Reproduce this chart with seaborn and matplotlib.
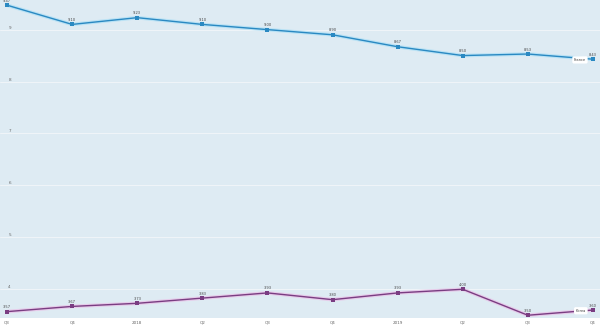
import matplotlib
matplotlib.use("Agg")
import matplotlib.pyplot as plt
import seaborn as sns
import pandas as pd

quarters = ["Q3", "Q4", "2018", "Q2", "Q3", "Q4", "2019", "Q2", "Q3", "Q4"]
france = [9.47, 9.10, 9.23, 9.10, 9.00, 8.90, 8.67, 8.50, 8.53, 8.43]
korea = [3.57, 3.67, 3.73, 3.83, 3.93, 3.80, 3.93, 4.00, 3.50, 3.60]
series_names = ["France", "Korea"]
colors = {"France": "#2a89c2", "Korea": "#7a3d82"}
halo = {"France": "#b9e2f5", "Korea": "#e6cbea"}

rows = []
for name, vals in zip(series_names, [france, korea]):
    for i, v in enumerate(vals):
        rows.append({"idx": i, "value": v, "country": name})
df = pd.DataFrame(rows)

sns.set_theme(style="white")
plt.rcParams['font.family'] = ['DejaVu Sans']

fig = plt.figure(figsize=(6, 3.27), dpi=100)
fig.patch.set_facecolor("white")
ax = fig.add_axes([0, 0.028, 1, 0.972])
ax.set_facecolor("#deebf3")

# halo
sns.lineplot(data=df, x="idx", y="value", hue="country", palette=halo,
             linewidth=2.6, legend=False, ax=ax, zorder=2)
# main line
sns.lineplot(data=df, x="idx", y="value", hue="country", palette=colors,
             marker="s", markersize=2.4, markeredgewidth=0, linewidth=1.0,
             legend=False, ax=ax, zorder=3)
for line in ax.lines:
    line.set_clip_on(False)

for name, vals in zip(series_names, [france, korea]):
    for i, v in enumerate(vals):
        ax.annotate(f"{v:.2f}", (i, v), xytext=(0, 1.8), textcoords="offset points",
                    ha="center", va="bottom", fontsize=2.6, color="#444444", zorder=5)
    ax.annotate(name, (len(vals) - 1, vals[-1]), xytext=(-5, -0.5), textcoords="offset points",
                ha="right", va="center", fontsize=2.6, color="#444444", zorder=6,
                bbox=dict(boxstyle="round,pad=0.45", fc="white", ec="none"))

ax.set_xlim(-0.108, 9.108)
ax.set_ylim(3.45, 9.57)
ax.set_xticks(range(len(quarters)))
ax.set_xticklabels(quarters)
ax.set_yticks([4, 5, 6, 7, 8, 9])
ax.set_yticklabels(["4", "5", "6", "7", "8", "9"])
ax.grid(axis="y", color="#f0f5f9", linewidth=0.7)
ax.grid(axis="x", visible=False)
ax.tick_params(axis="x", length=0, pad=2, labelsize=3, labelcolor="#666666")
ax.tick_params(axis="y", length=0, pad=-6, labelsize=3, labelcolor="#666666")
for lab in ax.get_yticklabels():
    lab.set_horizontalalignment("left")
    lab.set_verticalalignment("bottom")
for s in ax.spines.values():
    s.set_visible(False)
ax.set_xlabel("")
ax.set_ylabel("")

fig.savefig("out.png", dpi=100)
